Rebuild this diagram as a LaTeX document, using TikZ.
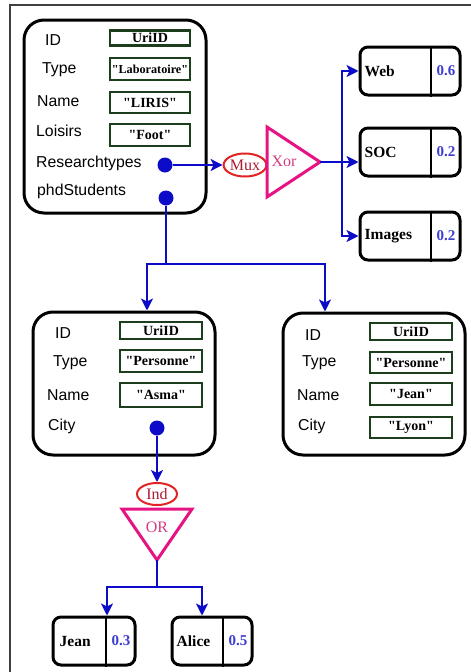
\documentclass[tikz,border=0pt]{standalone}
\usepackage{fontspec}
\setmainfont{Liberation Serif}
\newfontfamily\arialfont{Liberation Sans}
\usetikzlibrary{arrows.meta,calc,shapes.geometric}

\definecolor{wireblue}{RGB}{12,12,200}
\definecolor{valgreen}{RGB}{28,62,28}
\definecolor{gatepink}{RGB}{230,20,130}
\definecolor{muxred}{RGB}{225,35,35}
\definecolor{muxtext}{RGB}{170,25,50}
\definecolor{xortext}{RGB}{210,60,130}
\definecolor{probblue}{RGB}{60,60,210}

\newcommand{\qv}[1]{\textquotedbl#1\textquotedbl}

\begin{document}
\begin{tikzpicture}[x=1pt,y=-1pt,
  obj/.style={draw, line width=3pt, rounded corners=20pt, inner sep=0},
  val/.style={draw=valgreen, line width=2.6pt, inner sep=0, minimum width=80pt,
    font=\bfseries\fontsize{14}{14}\selectfont},
  lbl/.style={anchor=west, inner sep=0, text height=0.72em, text depth=0.2em,
    font=\arialfont\fontsize{15.8}{15.8}\selectfont},
  dot/.style={circle, fill=wireblue, inner sep=0, minimum size=15pt},
  wire/.style={draw=wireblue, line width=2.8pt},
  arr/.style={-{Stealth[length=12pt,width=12pt,inset=3pt]}},
  choice/.style={draw, line width=3pt, rounded corners=8pt, inner sep=0,
    minimum height=48pt},
  ctext/.style={anchor=west, inner sep=0, font=\bfseries\fontsize{15.5}{15.5}\selectfont},
  prob/.style={inner sep=0, text=probblue, font=\bfseries\fontsize{15}{15}\selectfont},
  gate/.style={draw=gatepink, line width=3pt, line join=miter},
  gatebox/.style={inner sep=0, outer sep=0},
  oval/.style={ellipse, draw=muxred, line width=2pt, inner sep=0, text=muxtext,
    font=\fontsize{16}{16}\selectfont}
]
\useasboundingbox (0,0) rectangle (471,672);

% page frame
\draw[line width=2pt, black!75] (471,5) -- (9.5,5) -- (9.5,672);

% ---------- laboratory object ----------
\node[obj, minimum width=182pt, minimum height=193pt] (lab) at (115,116.5) {};
\node[lbl] (labid)   at (45,43)  {ID};
\node[lbl] (labtype) at (42,71)  {Type};
\node[lbl] (labname) at (37,104) {Name};
\node[lbl] (labhob)  at (36,134) {Loisirs};
\node[lbl] (labrt)   at (36,165) {Researchtypes};
\node[lbl] (labphd)  at (37,193) {phdStudents};
\node[val, minimum height=15pt] (v1) at (150,38)    {UriID};
\node[val, minimum height=22pt, font=\bfseries\fontsize{12.2}{12.2}\selectfont] (v2) at (150,69) {\qv{Laboratoire}};
\node[val, minimum height=21pt] (v3) at (150,102.5) {\qv{LIRIS}};
\node[val, minimum height=22pt] (v4) at (150,135)   {\qv{Foot}};
\node[dot] (rt)  at (165,165) {};
\node[dot] (phd) at (166,198) {};

% ---------- research types: exclusive choice ----------
\node[oval, minimum width=35pt, minimum height=23pt] (mux) at (245,165) {Mux};
\node[gatebox, minimum width=53pt, minimum height=70pt] (xor) at (293.5,162) {};
\draw[gate] (xor.north west) -- (xor.east) -- (xor.south west) -- cycle;
\node[inner sep=0, text=xortext, font=\fontsize{16}{16}\selectfont] (xorlbl) at (284,161) {Xor};

\node[choice, minimum width=100pt] (web) at (410,71)  {};
\node[choice, minimum width=100pt] (soc) at (410,152) {};
\node[choice, minimum width=100pt] (img) at (410,236) {};
\foreach \b/\t/\p in {web/Web/0.6, soc/SOC/0.2, img/Images/0.2}{
  \draw[line width=2pt] ([xshift=-31pt]\b.north east) -- ([xshift=-31pt]\b.south east);
  \node[ctext] (\b-name) at ([xshift=6pt]\b.west) {\t};
  \node[prob] (\b-prob) at ([xshift=-15.5pt]\b.east) {\p};
}

\draw[wire,arr] (rt) -- (mux);
\coordinate (xsplit) at (342,162);
\draw[wire] (xor.east) -- (xsplit);
\draw[wire,arr] (xsplit) |- (web.west);
\draw[wire,arr] (xsplit) -- (xsplit -| soc.west);
\draw[wire,arr] (xsplit) |- (img.west);

% ---------- person objects ----------
\node[obj, minimum width=182pt, minimum height=143pt] (asma) at (124,383.5) {};
\node[lbl] (aid)   at (55,336) {ID};
\node[lbl] (atype) at (53,364) {Type};
\node[lbl] (aname) at (47,398) {Name};
\node[lbl] (acity) at (48,428) {City};
\node[val, minimum width=82pt, minimum height=17pt] (a1) at (161,330.5) {UriID};
\node[val, minimum width=82pt, minimum height=22pt] (a2) at (161,361)   {\qv{Personne}};
\node[val, minimum width=82pt, minimum height=24pt] (a3) at (161,395)   {\qv{Asma}};
\node[dot] (city) at (157,428) {};

\node[obj, minimum width=182pt, minimum height=142pt] (jeanp) at (374,384) {};
\node[lbl] (jid)   at (305,338) {ID};
\node[lbl] (jtype) at (302,364) {Type};
\node[lbl] (jname) at (297,398) {Name};
\node[lbl] (jcity) at (298,428) {City};
\node[val, minimum width=82pt, minimum height=17pt] (j1) at (411,331.5) {UriID};
\node[val, minimum width=82pt, minimum height=21pt] (j2) at (411,362.5) {\qv{Personne}};
\node[val, minimum width=82pt, minimum height=22pt] (j3) at (411,394)   {\qv{Jean}};
\node[val, minimum width=82pt, minimum height=21pt] (j4) at (411,427.5) {\qv{Lyon}};

\coordinate (pfork) at (166,264);
\draw[wire] (phd) -- (pfork);
\draw[wire,arr] (pfork) -| ([xshift=23pt]asma.north);
\draw[wire,arr] (pfork) -| ([xshift=-49pt]jeanp.north);

% ---------- city: independent choice ----------
\node[oval, minimum width=40pt, minimum height=22pt] (ind) at (157,494) {Ind};
\node[gatebox, minimum width=70pt, minimum height=51pt] (orgate) at (157,534.5) {};
\draw[gate] (orgate.north west) -- (orgate.north east) -- (orgate.south) -- cycle;
\node[inner sep=0, text=xortext, font=\fontsize{16}{16}\selectfont] (orlbl) at (157,527) {OR};

\draw[wire,arr] (city) -- (ind);

\node[choice, minimum width=82pt] (jc) at (94,641)  {};
\node[choice, minimum width=80pt] (al) at (212,641) {};
\foreach \b/\t/\p/\o in {jc/Jean/0.3/8pt, al/Alice/0.5/6pt}{
  \draw[line width=2pt] ([xshift=-31pt]\b.north east) -- ([xshift=-31pt]\b.south east);
  \node[ctext] (\b-name) at ([xshift=\o]\b.west) {\t};
  \node[prob] (\b-prob) at ([xshift=-15.5pt]\b.east) {\p};
}

\coordinate (ofork) at (157,587);
\draw[wire] (orgate.south) -- (ofork);
\draw[wire,arr] (ofork) -| ([xshift=13pt]jc.north);
\draw[wire,arr] (ofork) -| ([xshift=-10pt]al.north);
\end{tikzpicture}
\end{document}
